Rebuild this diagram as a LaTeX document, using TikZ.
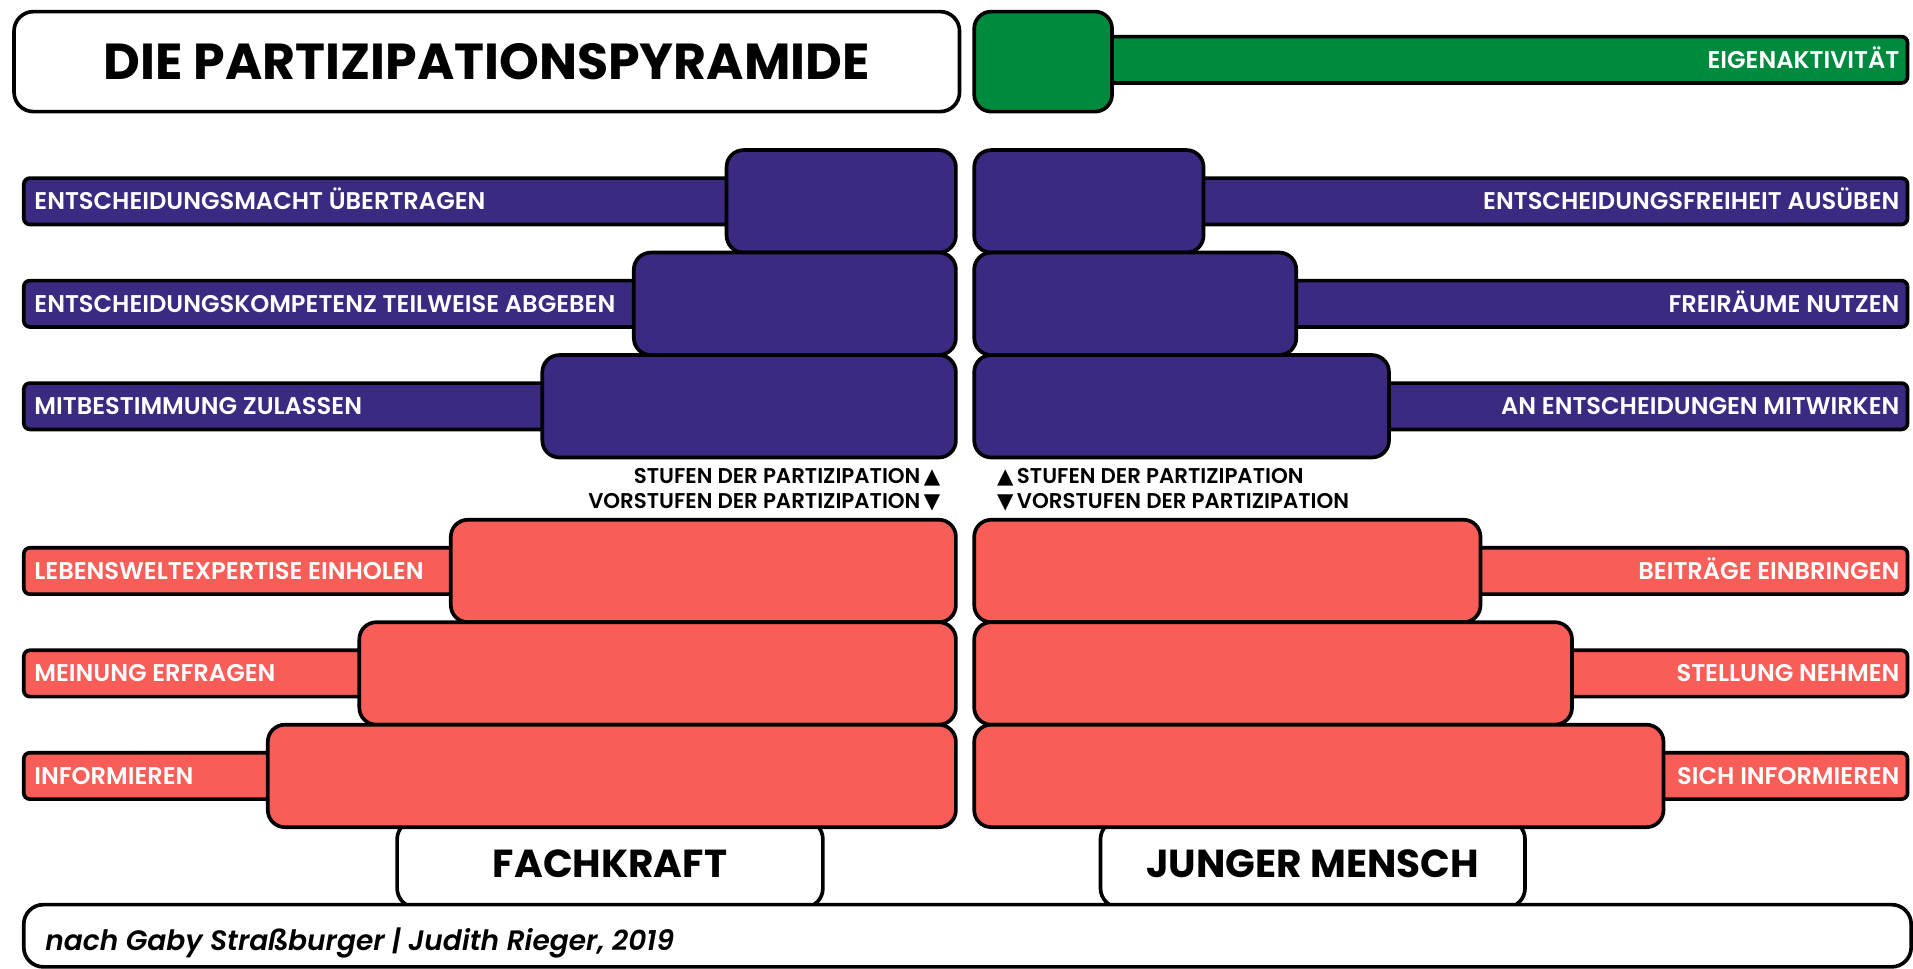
\documentclass[tikz,border=0pt]{standalone}
\usepackage{fontspec}
\setmainfont{Poppins}
\newfontfamily\halbfett{Poppins SemiBold}
\newfontfamily\symbole{DejaVu Sans}
\usetikzlibrary{positioning}
\definecolor{lila}{HTML}{3C2982}
\definecolor{koralle}{HTML}{F85E57}
\definecolor{gruen}{HTML}{008A3E}
\tikzset{
  rahmen/.style={draw=black, line width=3pt},
  kasten/.style={rahmen, fill=white, rounded corners=16pt, inner sep=0pt},
  stufe/.style={rahmen, rounded corners=14pt, minimum height=84pt, inner sep=0pt},
  balken/.style={rahmen, rounded corners=5pt, minimum height=38pt, inner sep=0pt},
  beschriftung/.style={text=white, font=\halbfett\fontsize{19.8}{20}\selectfont, inner sep=0pt, text height=13.8pt, text depth=0pt},
  hinweis/.style={font=\halbfett\fontsize{17.5}{18}\selectfont, inner sep=0pt, text height=12.2pt, text depth=0pt},
  seite/.style={font=\bfseries\fontsize{32}{32}\selectfont}
}
\newcommand{\linksstufe}[5] {\node[balken, fill=#4, anchor=west, minimum width={(#3+20-18)*1pt}] at (18,#2) (#1bar) {};
  \node[beschriftung, anchor=west] at (28,#2) (#1text) {#5};
  \node[stufe, fill=#4, anchor=east, minimum width={(785-#3)*1pt}] at (785,#2) (#1) {};}
\newcommand{\rechtsstufe}[5] {\node[balken, fill=#4, anchor=east, minimum width={(1565-#3+20)*1pt}] at (1565,#2) (#1bar) {};
  \node[beschriftung, anchor=east] at (1557,#2) (#1text) {#5};
  \node[stufe, fill=#4, anchor=west, minimum width={(#3-797)*1pt}] at (797,#2) (#1) {};}

\begin{document}
\begin{tikzpicture}[x=1pt, y=-1pt]
\useasboundingbox (0,0) rectangle (1568,794);

% wer beteiligt
\node[kasten, minimum width=349pt, minimum height=72pt, seite] at (500,708) (fachkraft) {FACHKRAFT};
\node[kasten, minimum width=348pt, minimum height=72pt, seite] at (1076,708) (mensch) {JUNGER MENSCH};
\node[kasten, anchor=north west, minimum width=1547pt, minimum height=51pt] at (18,740) (quelle) {};
\node[anchor=west, inner sep=0pt, font=\halbfett\itshape\fontsize{23}{23}\selectfont] at (37,773) (quelletext) {nach Gaby Straßburger | Judith Rieger, 2019};

% titel
\node[kasten, anchor=north west, minimum width=775pt, minimum height=82pt, font=\bfseries\fontsize{41.5}{42}\selectfont] at (10,8) (titel) {DIE PARTIZIPATIONSPYRAMIDE};

% eigenaktivitaet
\node[balken, fill=gruen, anchor=east, minimum width=665pt] at (1565,49) (eigenbar) {};
\node[beschriftung, anchor=east] at (1557,49) (eigentext) {EIGENAKTIVITÄT};
\node[stufe, fill=gruen, anchor=north west, minimum width=113pt, minimum height=82pt] at (797,8) (eigen) {};

% stufen
\linksstufe {macht}{165}{597}{lila}{ENTSCHEIDUNGSMACHT ÜBERTRAGEN};
\linksstufe {kompetenz}{249}{521}{lila}{ENTSCHEIDUNGSKOMPETENZ TEILWEISE ABGEBEN};
\linksstufe {mitbest}{333}{446}{lila}{MITBESTIMMUNG ZULASSEN};
\rechtsstufe {freiheit}{165}{985}{lila}{ENTSCHEIDUNGSFREIHEIT AUSÜBEN};
\rechtsstufe {freiraum}{249}{1061}{lila}{FREIRÄUME NUTZEN};
\rechtsstufe {mitwirken}{333}{1137}{lila}{AN ENTSCHEIDUNGEN MITWIRKEN};

% vorstufen
\linksstufe {expertise}{468}{371}{koralle}{LEBENSWELTEXPERTISE EINHOLEN};
\linksstufe {meinung}{552}{296}{koralle}{MEINUNG ERFRAGEN};
\linksstufe {info}{636}{221}{koralle}{INFORMIEREN};
\rechtsstufe {beitrag}{468}{1212}{koralle}{BEITRÄGE EINBRINGEN};
\rechtsstufe {stellung}{552}{1287}{koralle}{STELLUNG NEHMEN};
\rechtsstufe {sichinfo}{636}{1362}{koralle}{SICH INFORMIEREN};

% grenze
\node[hinweis, anchor=east] at (771,390) (stufenl) {STUFEN DER PARTIZIPATION\,{\symbole ▲}};
\node[hinweis, anchor=east] at (771,411) (vorstufenl) {VORSTUFEN DER PARTIZIPATION\,{\symbole ▼}};
\node[hinweis, anchor=west] at (817,390) (stufenr) {{\symbole ▲}\,STUFEN DER PARTIZIPATION};
\node[hinweis, anchor=west] at (817,411) (vorstufenr) {{\symbole ▼}\,VORSTUFEN DER PARTIZIPATION};

\end{tikzpicture}
\end{document}
